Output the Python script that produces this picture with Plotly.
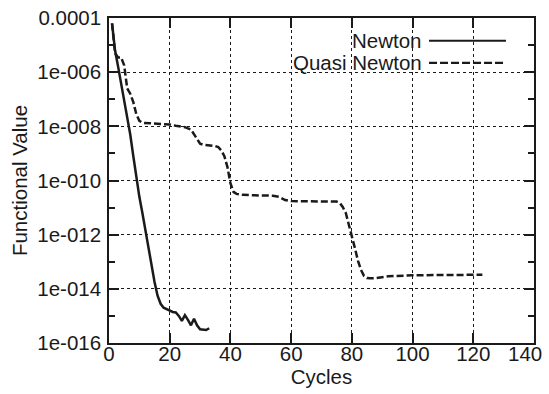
import plotly.graph_objects as go

# ---------------- data ----------------
newton_cycles = list(range(1, 34))
newton_values = [
    6.3e-5, 6.3e-6, 1.6e-6, 4.0e-7, 1.0e-7, 2.5e-8, 5.0e-9, 8.0e-10, 1.26e-10, 2.5e-11,
    6.3e-12, 1.4e-12, 3.2e-13, 7.9e-14, 1.8e-14, 5.6e-15, 2.8e-15, 2.0e-15, 1.8e-15, 1.6e-15,
    1.4e-15, 1.35e-15, 1.0e-15, 6.6e-16, 1.07e-15, 7.1e-16, 4.5e-16, 7.9e-16, 4.5e-16, 3.2e-16,
    3.0e-16, 3.0e-16, 3.5e-16,
]

qn_cycles = [1, 2, 3, 4, 5, 6, 7, 8, 9, 10, 11, 13, 16, 19, 20, 22, 25, 27, 28, 29,
             30, 31, 33, 35, 36, 37, 38, 39, 40, 41, 42, 44, 50, 54, 56, 58, 60, 68,
             75, 76, 77, 78, 79, 80, 81, 82, 83, 84, 85, 86, 88, 92, 100, 110, 123]
qn_values = [6.3e-5, 5.0e-6, 3.5e-6, 3.5e-6, 1.8e-6, 2.5e-7, 1.6e-7, 7.9e-8, 2.8e-8, 1.6e-8,
             1.35e-8, 1.3e-8, 1.28e-8, 1.23e-8, 1.17e-8, 1.05e-8, 9.3e-9, 7.6e-9, 5.0e-9, 3.2e-9,
             2.3e-9, 2.1e-9, 2.0e-9, 1.86e-9, 1.7e-9, 1.3e-9, 7.9e-10, 3.2e-10, 7.9e-11, 3.8e-11,
             3.2e-11, 2.95e-11, 2.8e-11, 2.75e-11, 2.5e-11, 1.9e-11, 1.74e-11, 1.7e-11,
             1.66e-11, 1.48e-11, 1.05e-11, 6.3e-12, 2.5e-12, 8.9e-13, 3.2e-13, 1.1e-13, 5.0e-14,
             3.0e-14, 2.5e-14, 2.45e-14, 2.5e-14, 2.9e-14, 3.15e-14, 3.25e-14, 3.3e-14]

x_tickvals = [0, 20, 40, 60, 80, 100, 120, 140]
x_ticktext = ["0", "20", "40", "60", "80", "100", "120", "140"]
y_tickvals = [1e-16, 1e-14, 1e-12, 1e-10, 1e-8, 1e-6, 1e-4]
y_ticktext = ["1e-016", "1e-014", "1e-012", "1e-010", "1e-008", "1e-006", "0.0001"]
series_names = ["Newton", "Quasi Newton"]

FONT = "Liberation Sans, Arial, sans-serif"
INK = "#1a1a1a"

fig = go.Figure()
fig.add_trace(go.Scatter(x=newton_cycles, y=newton_values, mode="lines", name=series_names[0],
                         line=dict(color=INK, width=2.5), showlegend=False))
fig.add_trace(go.Scatter(x=qn_cycles, y=qn_values, mode="lines", name=series_names[1],
                         line=dict(color=INK, width=2.5, dash="7px,3px"), showlegend=False))

# opaque key box (hides grid beneath the key, as in the original)
fig.add_shape(type="rect", xref="paper", yref="paper", x0=0.348, x1=0.995, y0=0.815, y1=0.995,
              fillcolor="white", line=dict(width=0), layer="between")

# custom key: text right-aligned, sample on the right
key_y = [0.930, 0.862]
key_dash = ["solid", "8px,3px"]
for name, ky, kd in zip(series_names, key_y, key_dash):
    fig.add_annotation(xref="paper", yref="paper", x=0.741, y=ky, text=name, showarrow=False,
                       xanchor="right", yanchor="middle", font=dict(family=FONT, size=20.5, color=INK))
    fig.add_shape(type="line", xref="paper", yref="paper", x0=0.753, x1=0.934, y0=ky, y1=ky,
                  line=dict(color=INK, width=2.2, dash=kd))

# last x label pulled inward so it stays inside the picture (as in the original)
fig.add_annotation(xref="x", yref="paper", x=x_tickvals[-1], y=0, text=x_ticktext[-1],
                   showarrow=False, xanchor="center", yanchor="middle", xshift=-9, yshift=-10,
                   font=dict(family=FONT, size=20.5, color=INK))

axis_common = dict(
    showline=True, linecolor=INK, linewidth=1.5, mirror="allticks",
    ticks="inside", ticklen=10, tickwidth=1.5, tickcolor=INK,
    showgrid=True, gridcolor=INK, gridwidth=1, griddash="dot",
    zeroline=False,
    tickfont=dict(family=FONT, size=20.5, color=INK),
)

fig.update_xaxes(range=[0, 140], tickvals=x_tickvals, ticktext=x_ticktext[:-1] + [""],
                 ticklabelstandoff=-8,
                 title=dict(text="Cycles", font=dict(family=FONT, size=20.5, color=INK), standoff=0),
                 **axis_common)
fig.update_yaxes(type="log", range=[-16, -4], tickvals=y_tickvals, ticktext=y_ticktext,
                 ticklabelstandoff=2,
                 minor=dict(ticks="inside", ticklen=6, tickwidth=1.5, tickcolor=INK, dtick=1, showgrid=False),
                 title=dict(text="Functional Value", font=dict(family=FONT, size=20.5, color=INK), standoff=4),
                 **axis_common)

fig.update_layout(
    width=549, height=394,
    margin=dict(l=109, r=15, t=18, b=51, autoexpand=False),
    paper_bgcolor="white", plot_bgcolor="white",
    font=dict(family=FONT, size=20.5, color=INK),
)

fig.write_html("out.html", config={"displayModeBar": False},
               post_script="document.body.style.margin='0';document.body.style.overflow='hidden';")
